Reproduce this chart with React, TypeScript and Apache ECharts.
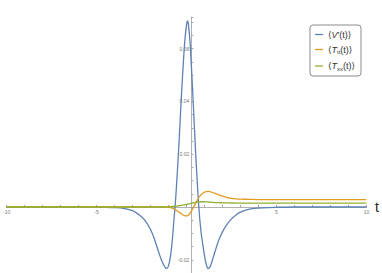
import React, { useEffect, useRef } from 'react';
import * as echarts from 'echarts';

// sample times (shared by the three curves)
const tValues = [
  -10, -8, -6, -5, -4.5, -4, -3.5, -3, -2.75, -2.5, -2.25, -2, -1.8, -1.6, -1.4, -1.2, -1.1, -1.0,
  -0.9, -0.8, -0.7, -0.6, -0.5, -0.4, -0.3, -0.2, -0.1, 0, 0.05, 0.1, 0.2, 0.3, 0.4, 0.5, 0.6, 0.7,
  0.8, 0.9, 1.0, 1.1, 1.2, 1.3, 1.4, 1.6, 1.8, 2.0, 2.25, 2.5, 2.75, 3, 3.5, 4, 4.5, 5, 6, 8, 10,
];

// <V'(t)>
const vPrimeValues = [
  0, 0, 0, -0.00003, -0.00008, -0.0002, -0.0005, -0.0014, -0.0024, -0.0037, -0.0056, -0.0085, -0.0118, -0.016, -0.02, -0.0228, -0.0233, -0.0222,
  -0.019, -0.0132, -0.005, 0.0035, 0.0145, 0.0265, 0.04, 0.052, 0.0625, 0.069, 0.0705, 0.0695, 0.062, 0.0495, 0.0355, 0.0215, 0.009, -0.0015,
  -0.009, -0.014, -0.0185, -0.0218, -0.0233, -0.0228, -0.021, -0.0165, -0.0124, -0.0094, -0.0066, -0.0045, -0.003, -0.0019, -0.0008, -0.0004, -0.0002, -0.0001, 0, 0, 0,
];

// <T_tt(t)>
const tttValues = [
  0, 0, 0, 0, 0, 0, 0, 0, 0, 0, 0, 0, 0, 0, 0, 0, -0.00003, -0.0001,
  -0.0002, -0.0004, -0.0007, -0.0011, -0.0015, -0.002, -0.0025, -0.003, -0.0033, -0.0034, -0.0033, -0.0031, -0.0023, -0.0012, 0, 0.0013, 0.0026, 0.0037,
  0.0046, 0.0052, 0.0056, 0.0058, 0.0059, 0.0058, 0.0056, 0.0051, 0.0046, 0.0041, 0.0036, 0.0033, 0.0031, 0.003, 0.0029, 0.0028, 0.0028, 0.0028, 0.0028, 0.0028, 0.0028,
];

// <T_xx(t)>
const txxValues = [
  0, 0, 0, 0, 0, 0, 0, 0, 0, 0, 0, 0, 0, 0, 0, 0.00003, 0.00006, 0.0001,
  0.00015, 0.0002, 0.00025, 0.0003, 0.0004, 0.0005, 0.0006, 0.0007, 0.00085, 0.001, 0.00108, 0.00115, 0.0013, 0.00145, 0.0016, 0.00175, 0.0019, 0.00195,
  0.002, 0.002, 0.002, 0.00195, 0.0019, 0.00185, 0.0018, 0.0017, 0.00165, 0.0016, 0.00155, 0.00152, 0.0015, 0.0015, 0.0015, 0.0015, 0.0015, 0.0015, 0.0015, 0.0015, 0.0015,
];

const seriesNames = ['V', 'Ttt', 'Txx'];
const seriesColors = ['#5E81B5', '#E19C24', '#8FB032'];
const legendLabels: Record<string, string> = {
  V: '{n|\u27E8}{i|V}{n|\u2032(t)\u27E9}',
  Ttt: '{n|\u27E8}{i|T}{s|tt}{n|(t)\u27E9}',
  Txx: '{n|\u27E8}{i|T}{s|xx}{n|(t)\u27E9}',
};

const xTickLabels = [-10, -5, 5, 10];
const yTickLabels = [-0.02, 0.02, 0.04, 0.06];

const FONT = '"Liberation Sans", "DejaVu Sans", sans-serif';

const X_MIN = -10;
const X_MAX = 10;
const Y_MIN = -0.025;
const Y_MAX = 0.072;
const GRID_LEFT = 3.3;
const GRID_RIGHT = 9.3;
const GRID_TOP = 17;
const GRID_BOTTOM = 0;
const W = 382;
const H = 273;

export default function App() {
  const ref = useRef<HTMLDivElement>(null);
  useEffect(() => {
    if (!ref.current) return;
    const chart = echarts.init(ref.current, undefined, { renderer: 'svg' });
    const allValues = [vPrimeValues, tttValues, txxValues];
    const gridW = W - GRID_LEFT - GRID_RIGHT;
    const gridH = H - GRID_TOP - GRID_BOTTOM;
    // move the axes onto the zero lines (labels included)
    const yOffset = -((0 - X_MIN) / (X_MAX - X_MIN)) * gridW;
    const xOffset = -((0 - Y_MIN) / (Y_MAX - Y_MIN)) * gridH;
    chart.setOption({
      animation: false,
      backgroundColor: '#ffffff',
      grid: { left: GRID_LEFT, right: GRID_RIGHT, top: GRID_TOP, bottom: GRID_BOTTOM, containLabel: false },
      xAxis: {
        type: 'value',
        min: X_MIN,
        max: X_MAX,
        interval: 1,
        position: 'bottom',
        offset: xOffset,
        name: 't',
        nameLocation: 'end',
        nameGap: 3,
        nameTextStyle: { fontSize: 14, color: '#222', fontFamily: FONT },
        axisLine: { onZero: false, lineStyle: { color: '#b0b0b0', width: 1 } },
        axisTick: { inside: true, length: 2, lineStyle: { color: '#a0a0a0' } },
        splitLine: { show: false },
        axisLabel: {
          fontSize: 5,
          color: '#777',
          margin: 2,
          fontFamily: FONT,
          showMinLabel: true,
          showMaxLabel: true,
          formatter: (v: number) => {
            const m = xTickLabels.find((x) => Math.abs(x - v) < 1e-6);
            return m === undefined ? '' : String(m);
          },
        },
      },
      yAxis: {
        type: 'value',
        min: Y_MIN,
        max: Y_MAX,
        interval: 0.005,
        position: 'left',
        offset: yOffset,
        axisLine: { onZero: false, lineStyle: { color: '#b0b0b0', width: 1 } },
        axisTick: { inside: true, length: 2, lineStyle: { color: '#a0a0a0' } },
        splitLine: { show: false },
        axisLabel: {
          fontSize: 5,
          color: '#777',
          margin: 2,
          fontFamily: FONT,
          formatter: (v: number) => {
            const m = yTickLabels.find((y) => Math.abs(y - v) < 1e-7);
            return m === undefined ? '' : m.toFixed(2);
          },
        },
      },
      legend: {
        orient: 'vertical',
        left: 310,
        top: 25,
        data: seriesNames,
        icon: 'rect',
        itemWidth: 8,
        itemHeight: 1.3,
        itemGap: 6,
        padding: [5, 6, 4, 5],
        borderColor: '#8c8c8c',
        borderWidth: 1,
        borderRadius: 3,
        backgroundColor: '#fff',
        formatter: (name: string) => legendLabels[name],
        textStyle: {
          fontSize: 9,
          color: '#333',
          fontFamily: FONT,
          rich: {
            n: { fontSize: 9, color: '#333', lineHeight: 12, fontFamily: FONT },
            i: { fontSize: 9, color: '#333', lineHeight: 12, fontStyle: 'italic', fontFamily: FONT },
            s: { fontSize: 6, color: '#333', lineHeight: 7, verticalAlign: 'bottom', fontFamily: FONT },
          },
        },
      },
      series: seriesNames.map((name, k) => ({
        name,
        type: 'line',
        showSymbol: false,
        symbol: 'none',
        smooth: 0.3,
        color: seriesColors[k],
        lineStyle: { width: 1.3, color: seriesColors[k] },
        data: tValues.map((t, i) => [t, allValues[k][i]]),
        z: 2 + k,
      })),
    });
    return () => chart.dispose();
  }, []);
  return <div ref={ref} style={{ position: 'fixed', left: 0, top: 0, width: W, height: H }} />;
}
